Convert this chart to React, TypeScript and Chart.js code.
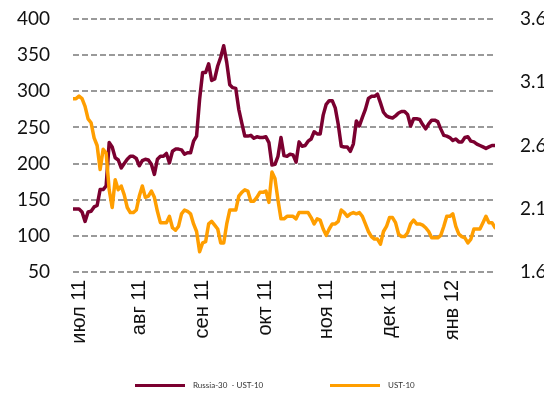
import React, { useEffect, useRef } from "react";
import { Chart, registerables } from "chart.js";

Chart.register(...registerables);

const monthLabels = ["июл 11", "авг 11", "сен 11", "окт 11", "ноя 11", "дек 11", "янв 12"];
const monthTickIdx = [2, 22, 43, 64, 84, 105, 126];

// Russia-30 - UST-10 spread, bp (left axis)
const spread = [
  137, 137, 137, 133, 120, 133, 134, 140, 142, 164,
  164, 169, 229, 223, 208, 205, 194, 200, 206, 210,
  210, 207, 197, 204, 206, 205, 199, 185, 206, 210,
  210, 214, 201, 217, 220, 220, 219, 213, 215, 215,
  231, 238, 289, 326, 326, 338, 315, 317, 335, 347,
  363, 340, 309, 305, 304, 275, 256, 238, 238, 239,
  235, 237, 236, 236, 237, 229, 198, 199, 210, 236,
  211, 210, 213, 212, 202, 230, 224, 225, 231, 234,
  244, 241, 241, 267, 282, 287, 287, 277, 254, 224,
  223, 223, 217, 227, 259, 252, 264, 275, 290, 293,
  293, 296, 284, 271, 266, 264, 263, 266, 270, 272,
  272, 268, 252, 262, 262, 261, 254, 248, 255, 260,
  260, 258, 248, 239, 238, 236, 232, 234, 230, 230,
  236, 237, 231, 230, 227, 225, 223, 221, 223, 225,
  225,
];

// UST-10 yield, % (right axis)
const ust = [
  2.97, 2.97, 2.99, 2.97, 2.91, 2.81, 2.78, 2.66, 2.6, 2.41,
  2.57, 2.54, 2.25, 2.11, 2.33, 2.25, 2.28, 2.21, 2.11, 2.07,
  2.07, 2.09, 2.2, 2.28, 2.19, 2.2, 2.24, 2.19, 2.08, 1.99,
  1.99, 1.99, 2.04, 1.95, 1.93, 1.96, 2.06, 2.09, 2.08, 2.06,
  1.98, 1.92, 1.76, 1.83, 1.84, 1.98, 2.0, 1.97, 1.94, 1.83,
  1.83, 1.98, 2.09, 2.09, 2.09, 2.2, 2.23, 2.25, 2.24, 2.16,
  2.16, 2.19, 2.23, 2.23, 2.24, 2.15, 2.39, 2.34, 2.17, 2.02,
  2.02, 2.04, 2.04, 2.04, 2.02, 2.07, 2.07, 2.07, 2.07, 2.03,
  1.98, 2.02, 2.01, 1.94, 1.89, 1.94, 1.98, 1.98, 2.0, 2.09,
  2.07, 2.04, 2.06, 2.07, 2.06, 2.07, 2.04, 1.98, 1.92, 1.88,
  1.86, 1.86, 1.82, 1.92, 1.96, 2.03, 2.03, 1.99, 1.9, 1.88,
  1.88, 1.91, 1.98, 2.01, 1.98, 1.98, 1.97, 1.95, 1.92, 1.87,
  1.87, 1.87, 1.89, 1.96, 2.04, 2.04, 2.06, 1.96, 1.9, 1.88,
  1.87, 1.83, 1.86, 1.94, 1.94, 1.94, 1.99, 2.04, 1.99, 1.99,
  1.95,
];

const rightTicks = [1.6, 2.1, 2.6, 3.1, 3.6];

const seriesNames = ["Russia-30  - UST-10", "UST-10"];
const MAROON = "#7B0030";
const ORANGE = "#FF9E00";

export default function App() {
  const ref = useRef<HTMLCanvasElement>(null);

  useEffect(() => {
    if (!ref.current) return;
    const chart = new Chart(ref.current, {
      type: "line",
      data: {
        datasets: [
          {
            label: seriesNames[1],
            data: ust.map((y, i) => ({ x: i, y })),
            yAxisID: "y2",
            borderColor: ORANGE,
            backgroundColor: ORANGE,
          },
          {
            label: seriesNames[0],
            data: spread.map((y, i) => ({ x: i, y })),
            yAxisID: "y",
            borderColor: MAROON,
            backgroundColor: MAROON,
          },
        ],
      },
      options: {
        animation: false,
        responsive: true,
        maintainAspectRatio: false,
        layout: { padding: { top: 11, left: 0, right: 0, bottom: 0 } },
        plugins: { legend: { display: false }, tooltip: { enabled: false } },
        elements: {
          point: { radius: 0 },
          line: { borderWidth: 3.5, tension: 0, borderJoinStyle: "round", borderCapStyle: "round" },
        },
        scales: {
          x: {
            type: "linear",
            min: 0,
            max: spread.length - 1,
            grid: { display: false, drawTicks: false },
            border: { display: false },
            afterBuildTicks: (s: any) => {
              s.ticks = monthTickIdx.map((v) => ({ value: v }));
            },
            afterFit: (s: any) => {
              s.height = 108;
              s.paddingLeft = 0;
              s.paddingRight = 0;
            },
            ticks: {
              autoSkip: false,
              minRotation: 90,
              maxRotation: 90,
              padding: 8,
              color: "#111",
              font: { family: "'Liberation Sans', Arial, sans-serif", size: 20 },
              callback: (v: any) => {
                const k = monthTickIdx.indexOf(Number(v));
                return k >= 0 ? monthLabels[k] : "";
              },
            },
          },
          y: {
            position: "left",
            min: 50,
            max: 400,
            ticks: {
              stepSize: 50,
              padding: 23,
              color: "#111",
              font: { family: "Lato, 'Open Sans', sans-serif", size: 19 },
            },
            grid: { color: "#9a9a9a", lineWidth: 2, drawTicks: false },
            border: { display: false, dash: [6, 3] },
            afterFit: (s: any) => {
              s.width = 65;
              s.paddingTop = 0;
              s.paddingBottom = 0;
            },
          },
          y2: {
            position: "right",
            min: 1.6,
            max: 3.6,
            afterBuildTicks: (s: any) => {
              s.ticks = rightTicks.map((v) => ({ value: v }));
            },
            ticks: {
              padding: 25,
              color: "#111",
              font: { family: "Lato, 'Open Sans', sans-serif", size: 19 },
              callback: (v: any) => Number(v).toFixed(1),
            },
            grid: { display: false, drawTicks: false },
            border: { display: false },
            afterFit: (s: any) => {
              s.width = 49;
              s.paddingTop = 0;
              s.paddingBottom = 0;
            },
          },
        },
      },
    });
    return () => chart.destroy();
  }, []);

  const legendText: React.CSSProperties = {
    fontFamily: "Lato, 'Open Sans', sans-serif",
    fontSize: 8,
    color: "#333",
    whiteSpace: "pre",
    lineHeight: "14px",
  };

  return (
    <div style={{ position: "relative", width: 536, height: 387 }}>
      <div style={{ position: "absolute", left: 0, top: 0, width: 536, height: 372 }}>
        <canvas ref={ref} />
      </div>
      <div style={{ position: "absolute", left: 127, top: 370, height: 14, display: "flex", alignItems: "center" }}>
        <div style={{ width: 50, height: 3, background: MAROON }} />
        <span style={{ ...legendText, marginLeft: 8 }}>{seriesNames[0]}</span>
      </div>
      <div style={{ position: "absolute", left: 322, top: 370, height: 14, display: "flex", alignItems: "center" }}>
        <div style={{ width: 50, height: 3, background: ORANGE }} />
        <span style={{ ...legendText, marginLeft: 8 }}>{seriesNames[1]}</span>
      </div>
    </div>
  );
}
